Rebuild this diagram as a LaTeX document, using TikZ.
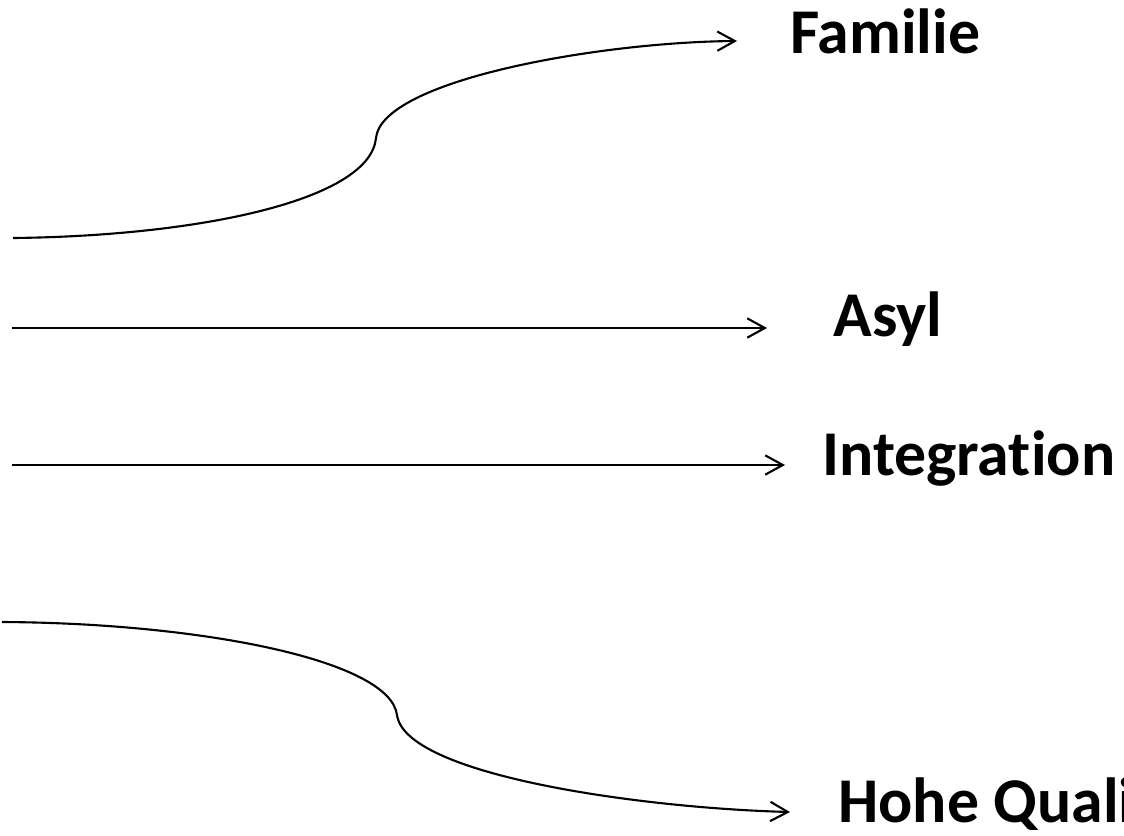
\documentclass[tikz,border=0pt]{standalone}
\usepackage{fontspec}
\setmainfont[Ligatures=NoCommon]{Carlito}
\usetikzlibrary{arrows.meta}
\begin{document}
\begin{tikzpicture}[x=0.02cm,y=-0.02cm,
  arr/.style={line width=1.2pt,-{Straight Barb[length=10pt,width=11pt,line width=1.2pt]}},
  lbl/.style={anchor=west,inner sep=0pt,font=\fontsize{36.3}{42}\selectfont\bfseries}]
\useasboundingbox (0,0) rectangle (1124,835);
\clip (0,0) rectangle (1124,835);
% text labels
\node[lbl] (fam) at (790,31) {Familie};
\node[lbl] (asyl) at (833,319) {Asyl};
\node[lbl] (integ) at (822,459) {Integration};
\node[lbl] (qual) at (838,804) {Hohe Qualität};
% connector ends
\coordinate (s1) at (13,238);
\coordinate (m1) at (376,138);
\coordinate (e1) at (737,41);
\coordinate (s2) at (12,328);
\coordinate (e2) at (767,328);
\coordinate (s3) at (12,465);
\coordinate (e3) at (785,465);
\coordinate (s4) at (2,622);
\coordinate (m4) at (397,715);
\coordinate (e4) at (790,812);
% connectors
\draw[arr] (s1) .. controls (200,236) and (370,200) .. (m1)
                .. controls (382,80) and (600,42) .. (e1);
\draw[arr] (s2) -- (e2);
\draw[arr] (s3) -- (e3);
\draw[arr] (s4) .. controls (200,623) and (390,660) .. (m4)
                .. controls (405,775) and (640,808) .. (e4);
\end{tikzpicture}
\end{document}
